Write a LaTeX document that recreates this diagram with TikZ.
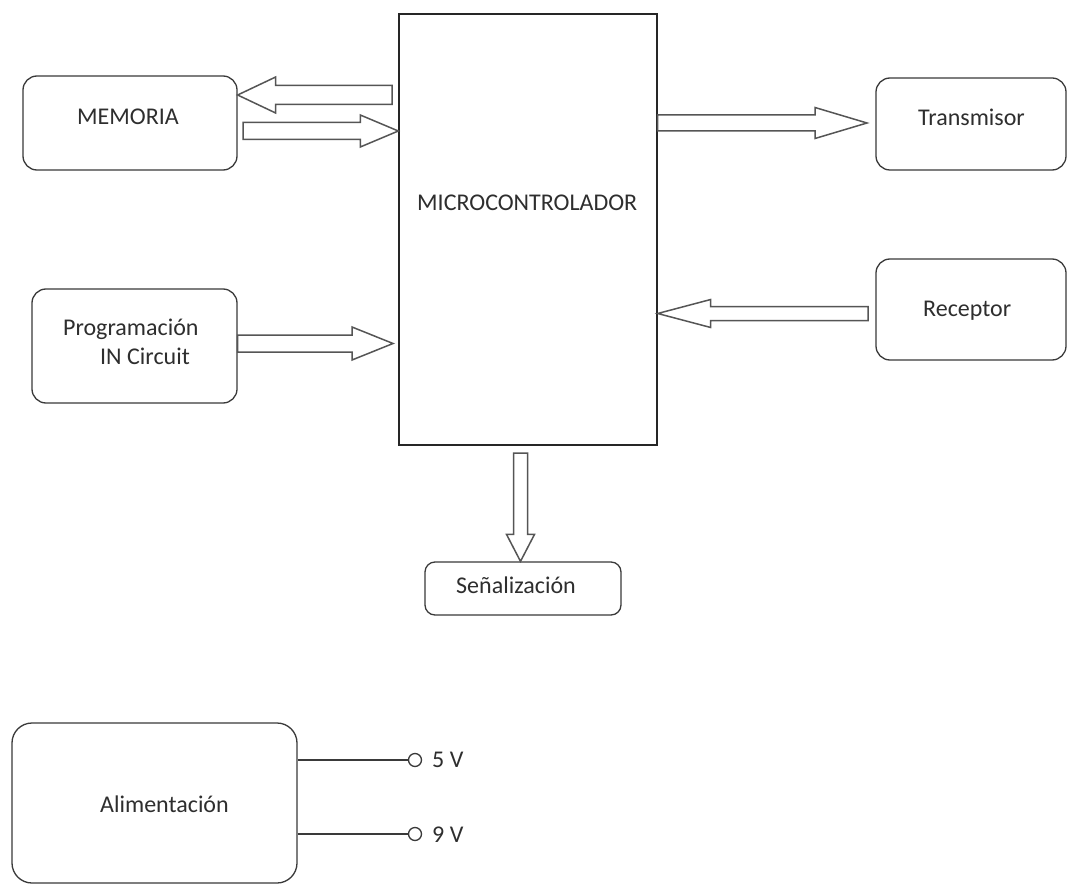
\documentclass[tikz,border=0pt]{standalone}
\usepackage{fontspec}
\setmainfont{Carlito}
\usetikzlibrary{calc}

\definecolor{ink}{HTML}{2E2E2E}
\definecolor{edge}{HTML}{3A3A3A}
\definecolor{arrowgray}{HTML}{555555}

\tikzset{
  box/.style={draw=edge, line width=1.3pt, rounded corners=14pt, inner sep=0pt},
  mcubox/.style={draw=black!85, line width=1.4pt, inner sep=0pt},
  txt/.style={inner sep=0pt, anchor=base west, text=ink, font=\fontsize{24}{28}\selectfont},
  blockarrow/.style={draw=arrowgray, line width=1.5pt, line join=miter, fill=white},
  terminal/.style={draw=edge, line width=1.3pt, circle, minimum size=13pt, inner sep=0pt},
  wire/.style={draw=edge, line width=1.2pt}
}

% hollow block arrow: tail, tip, body half width, head half width, head length
\newcommand\blockarrow[5]{%
  \coordinate (ba-h) at ($(#2)!#5!(#1)$);
  \draw[blockarrow]
    ($(#1)!#3!90:(#2)$) -- ($(ba-h)!#3!90:(#2)$) -- ($(ba-h)!#4!90:(#2)$) --
    (#2) --
    ($(ba-h)!#4!-90:(#2)$) -- ($(ba-h)!#3!-90:(#2)$) -- ($(#1)!#3!-90:(#2)$) -- cycle;
}

\begin{document}
\begin{tikzpicture}[x=1pt, y=-1pt]
  \useasboundingbox (0,0) rectangle (1067,885);
  \fill[white] (0,0) rectangle (1067,885);

  % blocks
  \node[mcubox, minimum width=258pt, minimum height=431pt] (mcu) at (528,229.5) {};
  \node[box, minimum width=214pt, minimum height=94pt]  (mem)  at (130,123) {};
  \node[box, minimum width=190pt, minimum height=92pt]  (tx)   at (971,124) {};
  \node[box, minimum width=190pt, minimum height=101pt] (rx)   at (971,309.5) {};
  \node[box, minimum width=205pt, minimum height=114pt] (prog) at (134.5,346) {};
  \node[box, minimum width=196pt, minimum height=53pt, rounded corners=10pt] (sig) at (523,588.5) {};
  \node[box, minimum width=285pt, minimum height=160pt, rounded corners=20pt] (pwr) at (154.5,803) {};

  % block titles
  \node[txt] (mcu-t)  at (417,211) {MICROCONTROLADOR};
  \node[txt] (mem-t)  at (77,125)  {MEMORIA};
  \node[txt] (tx-t)   at (918,126) {Transmisor};
  \node[txt] (rx-t)   at (923,316) {Receptor};
  \node[txt] (prog-t) at (63,335)  {Programación};
  \node[txt] (prog-u) at (100,364) {IN Circuit};
  \node[txt] (sig-t)  at (456,593) {Señalización};
  \node[txt] (pwr-t)  at (100,812) {Alimentación};

  % data paths
  \coordinate (m2mem-s) at (392,95);
  \coordinate (m2mem-e) at (mem.east |- 0,95);
  \blockarrow{m2mem-s}{m2mem-e}{9.5pt}{18pt}{38pt}

  \coordinate (mem2m-s) at (243,131);
  \coordinate (mem2m-e) at (mcu.west |- 0,131);
  \blockarrow{mem2m-s}{mem2m-e}{8.5pt}{16pt}{38pt}

  \coordinate (m2tx-s) at (mcu.east |- 0,123);
  \coordinate (m2tx-e) at (867,123);
  \blockarrow{m2tx-s}{m2tx-e}{8pt}{15.5pt}{52pt}

  \coordinate (rx2m-s) at (868,313.5);
  \coordinate (rx2m-e) at (mcu.east |- 0,313.5);
  \blockarrow{rx2m-s}{rx2m-e}{7pt}{14pt}{53pt}

  \coordinate (prog2m-s) at (prog.east |- 0,343.5);
  \coordinate (prog2m-e) at (393,343.5);
  \blockarrow{prog2m-s}{prog2m-e}{8.5pt}{16.5pt}{41pt}

  \coordinate (m2sig-s) at (520.5,453);
  \coordinate (m2sig-e) at (sig.north -| 520.5,0);
  \blockarrow{m2sig-s}{m2sig-e}{7pt}{14pt}{27pt}

  % supply outputs
  \node[terminal] (v5) at (415,760) {};
  \node[terminal] (v9) at (415,834) {};
  \draw[wire] (pwr.east |- v5) -- (v5.west);
  \draw[wire] (pwr.east |- v9) -- (v9.west);
  \node[txt] (v5-t) at (432,767) {5 V};
  \node[txt] (v9-t) at (432,842) {9 V};
\end{tikzpicture}
\end{document}
